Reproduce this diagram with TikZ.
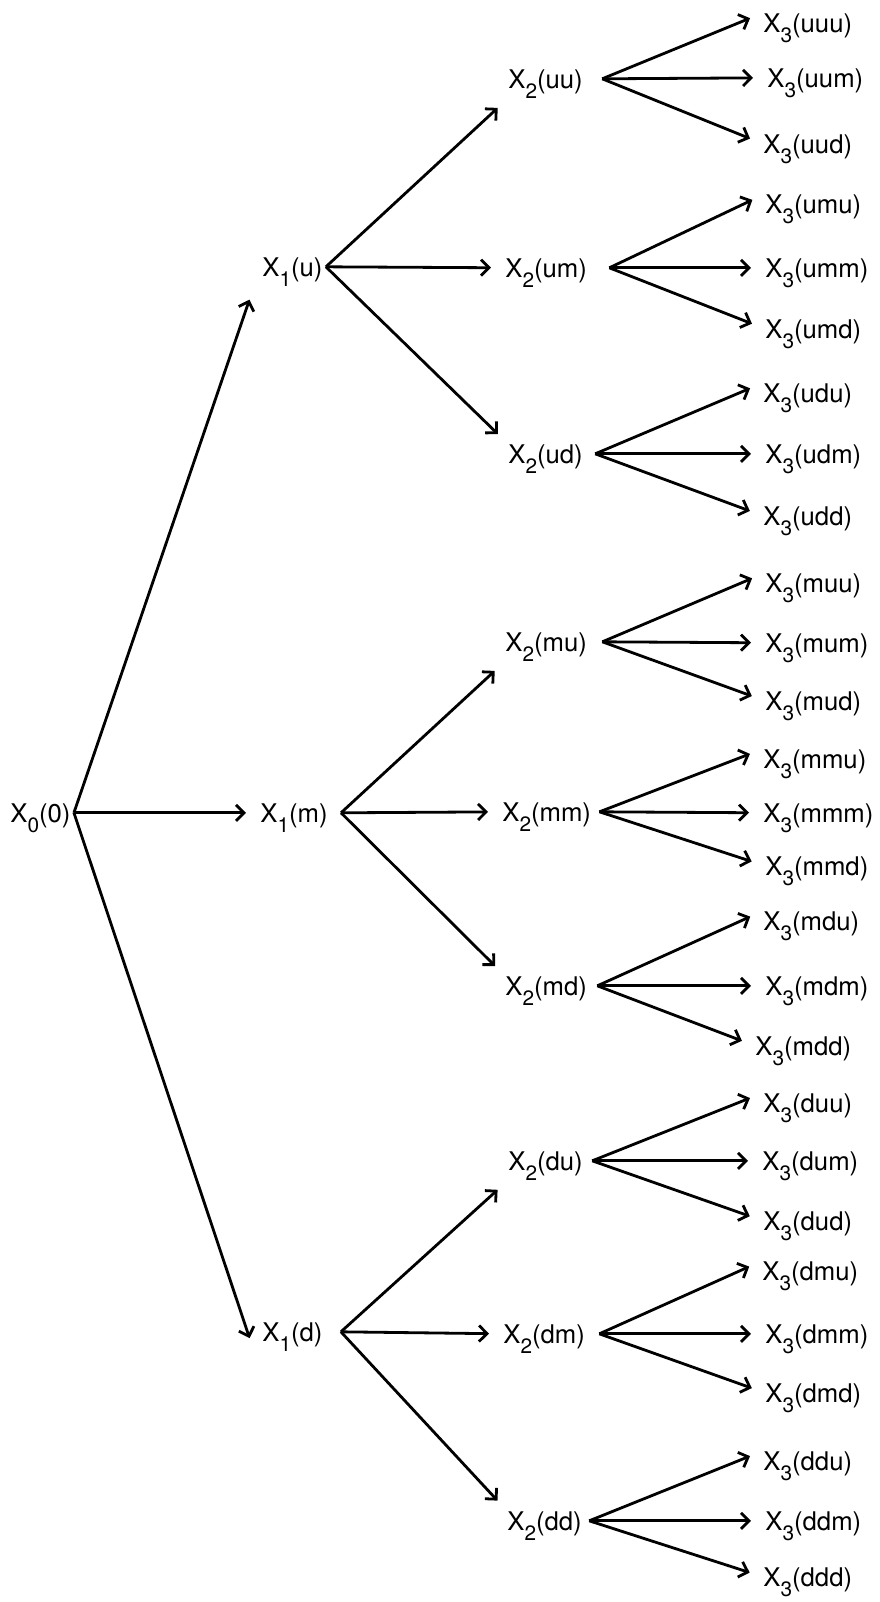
\documentclass[tikz,border=0pt]{standalone}
\usepackage{fontspec}
\setmainfont{TeX Gyre Heros}
\usetikzlibrary{arrows.meta}
\newcommand{\tsub}[1]{\raisebox{-5pt}{\fontsize{10.4}{11}\selectfont #1}}
\tikzstyle{outcome} = [inner sep=0pt, anchor=base west, font=\fontsize{12.85}{15}\selectfont]
\tikzstyle{branch} = [line width=1.4pt, ->, >={Straight Barb[length=4pt,width=8pt]}, shorten >=7pt]

\begin{document}
\begin{tikzpicture}[x=0.5pt, y=-0.5pt]
  \useasboundingbox (0,0) rectangle (879,1602);
  % root and first step
  \node (x0) [outcome] at (10,822) {X\tsub{0}(0)};
  \coordinate (x0 o) at ([xshift=1.5pt, yshift=4.6pt]x0.base east);
  \foreach \n/\x/\y/\g in {u/262/276/1.5pt, m/260/822/6.5pt, d/262/1341/9pt} {
    \node (\n) [outcome] at (\x,\y) {X\tsub{1}(\n)};
    \coordinate (\n o) at ([xshift=\g, yshift=4.6pt]\n.base east);
  }
  % second step
  \foreach \n/\x/\y/\g in {uu/508/88/9.5pt, um/505/277/11pt, ud/508/463/6pt,
                           mu/505/651/7.5pt, mm/502/821/4pt, md/505/995/5pt,
                           du/508/1170/4.5pt, dm/503/1343/7pt, dd/507/1530/3.5pt} {
    \node (\n) [outcome] at (\x,\y) {X\tsub{2}(\n)};
    \coordinate (\n o) at ([xshift=\g, yshift=4.6pt]\n.base east);
  }
  % third step
  \foreach \n/\x/\y in {uuu/763/32, uum/767/87, uud/763/153,
                        umu/765/213, umm/765/277, umd/765/338,
                        udu/763/402, udm/765/463, udd/763/525,
                        muu/765/592, mum/765/652, mud/765/710,
                        mmu/763/768, mmm/763/822, mmd/765/875,
                        mdu/763/930, mdm/765/995, mdd/755/1055,
                        duu/763/1112, dum/762/1170, dud/763/1230,
                        dmu/762/1280, dmm/765/1343, dmd/765/1402,
                        ddu/763/1470, ddm/765/1530, ddd/763/1586}
    \node (\n) [outcome] at (\x,\y) {X\tsub{3}(\n)};
  % branches
  \draw [branch] (x0 o) -- ([xshift=-4pt]u.south west);
  \draw [branch] (x0 o) -- ([yshift=4.6pt]m.base west);
  \draw [branch] (x0 o) -- ([xshift=-4pt]d.south west);
  \foreach \p in {u, m, d} {
    \draw [branch] (\p o) -- (\p u.south west);
    \draw [branch] (\p o) -- ([yshift=4.6pt]\p m.base west);
    \draw [branch] (\p o) -- (\p d.north west);
  }
  \foreach \p in {uu, um, ud, mu, mm, md, du, dm, dd} {
    \draw [branch] (\p o) -- (\p u.north west);
    \draw [branch] (\p o) -- ([yshift=4.6pt]\p m.base west);
    \draw [branch] (\p o) -- ([yshift=4.6pt]\p d.base west);
  }
\end{tikzpicture}
\end{document}
